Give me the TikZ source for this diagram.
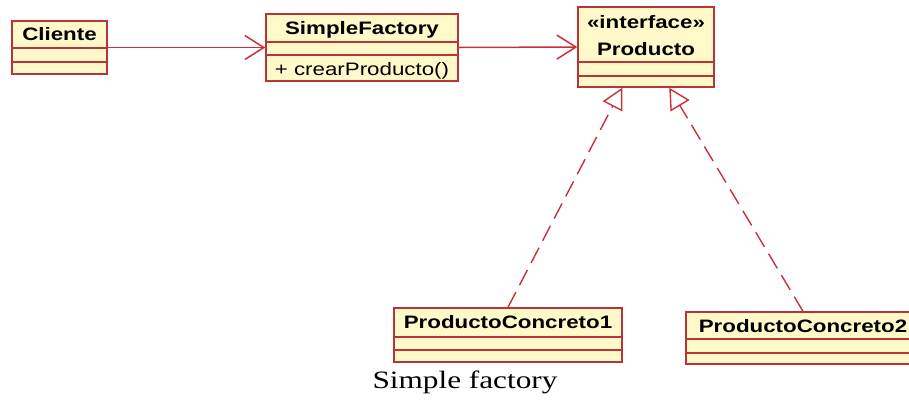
\documentclass[tikz,border=0pt]{standalone}
\usepackage{fontspec}
\usepackage{graphicx}
\setmainfont{Liberation Serif}
\setsansfont{Liberation Sans}
\usetikzlibrary{arrows.meta}

\definecolor{classfill}{HTML}{FFF8C8}
\definecolor{classedge}{HTML}{B8343A}
\definecolor{linkred}{HTML}{C8303C}

% class texts are set slightly wide
\newcommand\widetext[1]{\scalebox{1.24}[1]{#1}}

\tikzset{
  classbox/.style={draw=classedge, fill=classfill, line width=1.5pt, inner sep=0pt},
  classname/.style={font=\sffamily\bfseries\fontsize{18}{20}\selectfont, anchor=base, inner sep=0pt},
  member/.style={font=\sffamily\fontsize{18}{20}\selectfont, anchor=base, inner sep=0pt},
  sepline/.style={draw=classedge, line width=1.3pt},
  assoc/.style={draw=linkred, line width=1.5pt, -{Straight Barb[length=19pt,width=24pt]}},
  realize/.style={draw=linkred, line width=1.4pt, dash pattern=on 17pt off 8pt,
    -{Triangle[open,length=21pt,width=22pt,fill=white]}},
  caption/.style={font=\rmfamily\fontsize{25}{28}\selectfont, anchor=base, inner sep=0pt},
}

\begin{document}
\begin{tikzpicture}[x=1pt,y=-1pt]
\useasboundingbox (0,0) rectangle (909,400);
\clip (0,0) rectangle (909,400);

% Cliente
\node[classbox, minimum width=95pt, minimum height=53pt] (cli) at (59.5,47.5) {};
\draw[sepline] (12,48) -- (107,48);
\draw[sepline] (12,62) -- (107,62);
\node[classname] (cliname) at (59.5,40) {\widetext{Cliente}};

% SimpleFactory
\node[classbox, minimum width=192pt, minimum height=67pt] (sf) at (362,47.5) {};
\draw[sepline] (266,42) -- (458,42);
\draw[sepline] (266,55) -- (458,55);
\node[classname] (sfname) at (362,34) {\widetext{SimpleFactory}};
\node[member] (sfop) at (362,75) {\widetext{+ crearProducto()}};

% Producto
\node[classbox, minimum width=136pt, minimum height=80pt] (prod) at (646,47) {};
\draw[sepline] (578,62) -- (714,62);
\draw[sepline] (578,76) -- (714,76);
\node[classname] (prodst) at (646,28) {\widetext{«interface»}};
\node[classname] (prodname) at (646,55) {\widetext{Producto}};

% ProductoConcreto1
\node[classbox, minimum width=228pt, minimum height=54pt] (pc1) at (508,335) {};
\draw[sepline] (394,337) -- (622,337);
\draw[sepline] (394,350) -- (622,350);
\node[classname] (pc1name) at (508,328) {\widetext{ProductoConcreto1}};

% ProductoConcreto2
\node[classbox, minimum width=234pt, minimum height=52pt] (pc2) at (803,338) {};
\draw[sepline] (686,339) -- (920,339);
\draw[sepline] (686,353) -- (920,353);
\node[classname] (pc2name) at (803,332) {\widetext{ProductoConcreto2}};

% associations
\draw[assoc] (cli.east) -- (sf.west);
\draw[assoc] (sf.east) -- (prod.west);

% realizations
\draw[realize] (pc1.north) -- ([xshift=45pt]prod.south west);
\draw[realize] (pc2.north) -- ([xshift=92pt]prod.south west);

% caption
\node[caption] (cap) at (465,388) {\scalebox{1.25}[1]{Simple factory}};
\end{tikzpicture}
\end{document}
